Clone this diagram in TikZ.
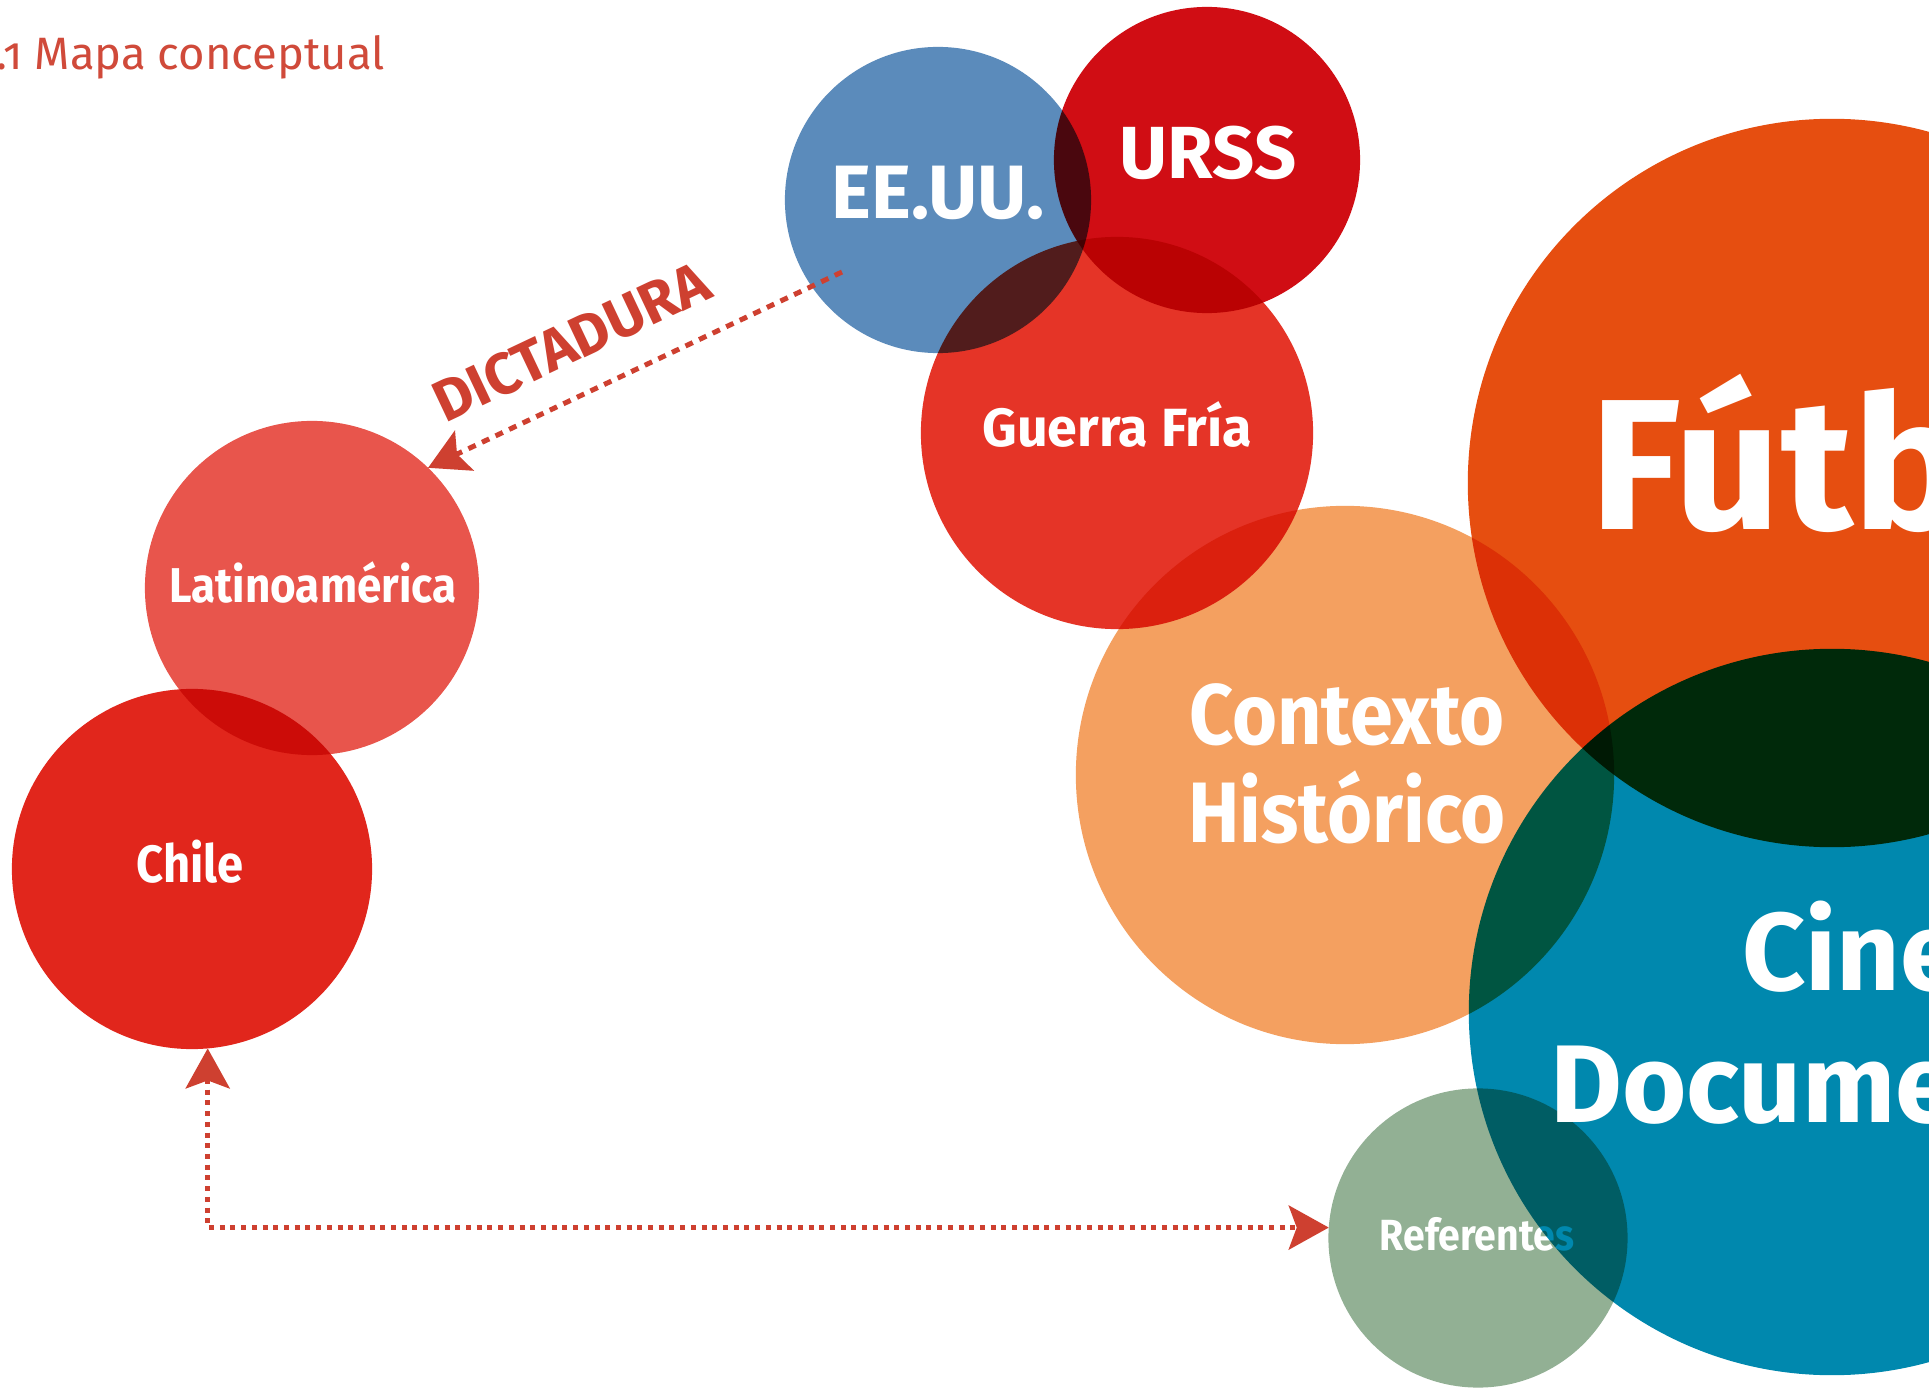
\documentclass[tikz,border=0pt]{standalone}
\usepackage{fontspec}
\setmainfont{Fira Sans}
\newfontfamily\narrowfont{Fira Sans}[FakeStretch=0.9]
\usepackage{tikz}
\usetikzlibrary{arrows.meta, positioning}
\definecolor{usablue}{RGB}{91, 139, 187}
\definecolor{urssred}{RGB}{208, 13, 20}
\definecolor{friared}{RGB}{229, 52, 39}
\definecolor{contextorange}{RGB}{244, 160, 96}
\definecolor{futbolorange}{RGB}{230, 78, 16}
\definecolor{cineblue}{RGB}{0, 136, 174}
\definecolor{refgreen}{RGB}{146, 176, 148}
\definecolor{latinored}{RGB}{232, 85, 76}
\definecolor{chilered}{RGB}{225, 38, 28}
\definecolor{dictred}{RGB}{206, 64, 48}
\definecolor{titlered}{RGB}{208, 74, 58}
\tikzset{
    bubble/.style={circle, inner sep=0pt, outer sep=0pt, minimum size=#1},
    tag/.style={text=white, inner sep=0pt, align=center},
    link/.style={{Stealth[length=0.4cm, width=0.44cm, inset=0.08cm]}-{Stealth[length=0.4cm, width=0.44cm, inset=0.08cm]},
        line width=0.05cm, color=dictred, dash pattern=on 0.05cm off 0.057cm},
    dictlink/.style={-{Stealth[length=0.4cm, width=0.44cm, inset=0.08cm]},
        line width=0.05cm, color=dictred, dash pattern=on 0.08cm off 0.07cm},
}

\begin{document}
\begin{tikzpicture}[x=0.01cm, y=-0.01cm]
    \useasboundingbox (0,0) rectangle (1929,1388);
    \clip (0,0) rectangle (1929,1388);
    \fill[white] (0,0) rectangle (1929,1388);

    \node[anchor=base west, inner sep=0pt, text=titlered, font=\fontsize{12.9}{16}\selectfont\addfontfeature{Numbers=OldStyle}] (title) at (-4,70) {.1 Mapa conceptual};

    \begin{scope}[blend mode=multiply]
        \node[bubble=3.06cm, fill=usablue] (eeuu) at (938,200) {};
        \node[bubble=3.06cm, fill=urssred] (urss) at (1207,160) {};
        \node[bubble=3.92cm, fill=friared] (guerra) at (1117,433) {};
        \node[bubble=5.38cm, fill=contextorange] (contexto) at (1345,775) {};
        \node[bubble=7.28cm, fill=futbolorange] (futbol) at (1832,483) {};
        \node[bubble=2.99cm, fill=refgreen] (referentes) at (1478,1238) {};
        \node[bubble=3.34cm, fill=latinored] (latino) at (312,588) {};
        \node[bubble=3.60cm, fill=chilered] (chile) at (192,869) {};
    \end{scope}
    \node[tag, anchor=base, font=\narrowfont\bfseries\fontsize{12.4}{15}\selectfont] (referentesTxt) at (1477,1250) {Referentes};
    \begin{scope}[blend mode=multiply]
        \node[bubble=7.26cm, fill=cineblue] (cine) at (1832,1012) {};
    \end{scope}

    \node[tag, anchor=base, font=\bfseries\fontsize{21.5}{26}\selectfont] (eeuuTxt) at (938,219) {EE.UU.};
    \node[tag, anchor=base, font=\bfseries\fontsize{21}{26}\selectfont] (urssTxt) at (1208,179) {URSS};
    \node[tag, anchor=base, font=\bfseries\fontsize{15.3}{18}\selectfont] (guerraTxt) at (1117,447) {Guerra Fría};
    \node[tag, font=\narrowfont\bfseries\fontsize{24.4}{27.9}\selectfont] (contextoTxt) at (1347,764) {Contexto\\Histórico};
    \node[tag, anchor=base west, font=\bfseries\fontsize{52.9}{60}\selectfont] (futbolTxt) at (1590,530) {Fútbol};
    \node[tag, font=\bfseries\fontsize{31.4}{37.6}\selectfont] (cineTxt) at (1852,1013) {Cine\\Documental};
    \node[tag, anchor=base, font=\narrowfont\bfseries\fontsize{13.9}{17}\selectfont] (latinoTxt) at (313,602) {Latinoamérica};
    \node[tag, anchor=base, font=\narrowfont\bfseries\fontsize{14.9}{18}\selectfont] (chileTxt) at (190,882) {Chile};

    \coordinate (dictStart) at (842,272);
    \draw[dictlink] (dictStart) -- node[sloped, pos=0.6, anchor=south, inner xsep=0pt, inner ysep=0.29cm,
        text=dictred, font=\bfseries\fontsize{16.6}{19}\selectfont] (dictLabel) {DICTADURA} (latino.46);
    \draw[link] (chile.275) |- (referentes.176);
\end{tikzpicture}
\end{document}
